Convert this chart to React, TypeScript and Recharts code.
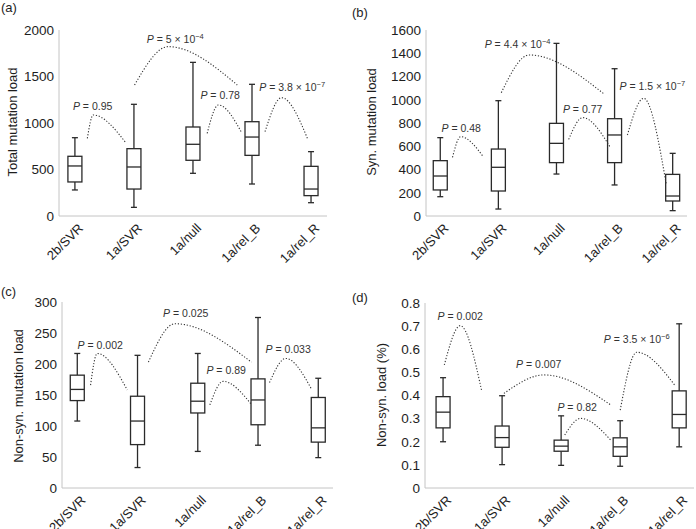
import React from "react";
import { ComposedChart, Bar, Line, Scatter, XAxis, YAxis } from "recharts";

const groups = ["2b/SVR", "1a/SVR", "1a/null", "1a/rel_B", "1a/rel_R"];
const groupX = [1, 2, 3, 4, 5];

// box stats per group: [min, q1, median, q3, max]
const totalLoad = [
  [280, 366, 538, 642, 842],
  [93, 290, 527, 724, 1201],
  [459, 599, 771, 957, 1652],
  [344, 652, 849, 1014, 1416],
  [143, 219, 290, 534, 692],
];
const synLoad = [
  [166, 224, 344, 476, 674],
  [60, 215, 419, 576, 992],
  [361, 459, 625, 797, 1485],
  [267, 459, 697, 837, 1267],
  [46, 129, 172, 358, 539],
];
const nonSynLoad = [
  [108, 141, 159, 182, 217],
  [33, 70, 108, 148, 214],
  [59, 121, 140, 169, 217],
  [69, 102, 142, 176, 275],
  [49, 74, 97, 146, 177],
];
const nonSynPct = [
  [0.2, 0.26, 0.328, 0.395, 0.477],
  [0.101, 0.176, 0.218, 0.268, 0.399],
  [0.098, 0.159, 0.181, 0.207, 0.312],
  [0.094, 0.137, 0.178, 0.217, 0.291],
  [0.178, 0.26, 0.318, 0.42, 0.71],
];

// dotted comparison arcs: [x, y] points (start, peak, end)
const totalArcs = [
  [[1.21, 835], [1.31, 1086], [1.86, 789]],
  [[2.01, 1409], [2.58, 1821], [3.75, 1409]],
  [[3.24, 889], [3.43, 1194], [3.83, 889]],
  [[4.22, 907], [4.5, 1272], [4.95, 817]],
];
const synArcs = [
  [[1.21, 505], [1.35, 682], [1.74, 510]],
  [[2.05, 1061], [2.53, 1385], [3.82, 1049]],
  [[3.21, 659], [3.45, 846], [3.92, 596]],
  [[4.22, 697], [4.5, 1012], [4.89, 270]],
];
const nonSynArcs = [
  [[1.22, 166], [1.33, 217], [1.83, 158]],
  [[2.18, 203], [2.62, 265], [3.89, 203]],
  [[3.2, 134], [3.42, 172], [3.88, 136]],
  [[4.19, 170], [4.46, 209], [4.89, 159]],
];
const pctArcs = [
  [[1.02, 0.532], [1.29, 0.702], [1.65, 0.424]],
  [[2.03, 0.409], [2.71, 0.489], [3.84, 0.359]],
  [[3.06, 0.229], [3.33, 0.301], [3.84, 0.207]],
  [[4.0, 0.337], [4.28, 0.587], [4.92, 0.446]],
];

// P value labels: x, y (text centre), value, exponent
const totalP = [
  { x: 1.3, y: 1183, p: "0.95", exp: "" },
  { x: 2.7, y: 1903, p: "5 × 10", exp: "−4" },
  { x: 3.46, y: 1301, p: "0.78", exp: "" },
  { x: 4.68, y: 1387, p: "3.8 × 10", exp: "−7" },
];
const synP = [
  { x: 1.36, y: 757, p: "0.48", exp: "" },
  { x: 2.33, y: 1480, p: "4.4 × 10", exp: "−4" },
  { x: 3.45, y: 920, p: "0.77", exp: "" },
  { x: 4.65, y: 1118, p: "1.5 × 10", exp: "−7" },
];
const nonSynP = [
  { x: 1.38, y: 230, p: "0.002", exp: "" },
  { x: 2.8, y: 282, p: "0.025", exp: "" },
  { x: 3.47, y: 190, p: "0.89", exp: "" },
  { x: 4.5, y: 224, p: "0.033", exp: "" },
];
const pctP = [
  { x: 1.29, y: 0.745, p: "0.002", exp: "" },
  { x: 2.62, y: 0.537, p: "0.007", exp: "" },
  { x: 3.27, y: 0.351, p: "0.82", exp: "" },
  { x: 4.28, y: 0.645, p: "3.5 × 10", exp: "−6" },
];

const totalTicks = [0, 500, 1000, 1500, 2000];
const synTicks = [0, 200, 400, 600, 800, 1000, 1200, 1400, 1600];
const nonSynTicks = [0, 50, 100, 150, 200, 250, 300];
const pctTicks = [0, 0.1, 0.2, 0.3, 0.4, 0.5, 0.6, 0.7, 0.8];

const FONT = "'Liberation Sans', Arial, Helvetica, sans-serif";
const INK = "#2a2a2a";
const AXIS = "#c4c4c4";
const BOX_W = 14;

const boxRange = (d: any) => (d && d.s ? [d.s[0], d.s[4]] : null);

const BoxShape = (props: any) => {
  const { x, y, width, height, payload } = props;
  if (!payload || !payload.s) return null;
  const [lo, q1, med, q3, hi] = payload.s;
  const py = (v: number) => y + (height * (hi - v)) / (hi - lo);
  const cx = x + width / 2;
  const bx = cx - BOX_W / 2;
  const cap = 3;
  return (
    <g stroke={INK} strokeWidth={1.3} fill="none">
      <line x1={cx} x2={cx} y1={py(hi)} y2={py(q3)} />
      <line x1={cx} x2={cx} y1={py(q1)} y2={py(lo)} />
      <line x1={cx - cap} x2={cx + cap} y1={py(hi)} y2={py(hi)} />
      <line x1={cx - cap} x2={cx + cap} y1={py(lo)} y2={py(lo)} />
      <rect x={bx} y={py(q3)} width={BOX_W} height={py(q1) - py(q3)} fill="#fff" />
      <line x1={bx} x2={bx + BOX_W} y1={py(med)} y2={py(med)} />
    </g>
  );
};

const PLabel = (props: any) => {
  const { cx, cy, payload } = props;
  if (!payload) return null;
  return (
    <text x={cx} y={cy + 4} textAnchor="middle" fontSize={10.5} fill="#333" fontFamily={FONT}>
      <tspan fontStyle="italic">P</tspan>
      <tspan>{" = " + payload.p}</tspan>
      {payload.exp ? (
        <tspan dy={-4} fontSize={7.5}>
          {payload.exp}
        </tspan>
      ) : null}
    </text>
  );
};

const XTick = (props: any) => {
  const { x, y, payload } = props;
  const ax = x + 9;
  const ay = y + 13;
  return (
    <text
      x={ax}
      y={ay}
      transform={`rotate(-45 ${ax} ${ay})`}
      textAnchor="end"
      fontSize={13}
      fill="#1e1e1e"
      fontFamily={FONT}
    >
      {groups[payload.value - 1]}
    </text>
  );
};

type PanelProps = {
  left: number;
  top: number;
  height: number;
  tag: string;
  tagPos: [number, number];
  title: string;
  titlePos: [number, number];
  stats: number[][];
  arcs: number[][][];
  pLabels: { x: number; y: number; p: string; exp: string }[];
  yTicks: number[];
  xDomain: [number, number];
  yAxisWidth: number;
  margin: { top: number; right: number };
  xAxisHeight: number;
};

function Panel(p: PanelProps) {
  const data = groupX.map((x, i) => ({ x, s: p.stats[i] }));
  const yMax = p.yTicks[p.yTicks.length - 1];
  return (
    <div style={{ position: "absolute", left: p.left, top: p.top }}>
      <ComposedChart
        width={348}
        height={p.height}
        data={data}
        margin={{ top: p.margin.top, right: p.margin.right, bottom: 0, left: 0 }}
      >
        <XAxis
          type="number"
          dataKey="x"
          domain={p.xDomain}
          allowDataOverflow
          ticks={groupX}
          interval={0}
          tickLine={false}
          tickSize={0}
          tickMargin={0}
          height={p.xAxisHeight}
          axisLine={{ stroke: AXIS }}
          tick={<XTick />}
        />
        <YAxis
          type="number"
          domain={[0, yMax]}
          ticks={p.yTicks}
          interval={0}
          allowDataOverflow
          width={p.yAxisWidth}
          tickLine={false}
          tickSize={0}
          tickMargin={5}
          axisLine={{ stroke: AXIS }}
          tick={{ fontSize: 13.5, fill: "#1e1e1e", fontFamily: FONT }}
        />
        <Bar dataKey={boxRange} barSize={14} shape={<BoxShape />} isAnimationActive={false} />
        {p.arcs.map((arc, i) => (
          <Line
            key={i}
            data={arc.map(([x, y]) => ({ x, y }))}
            dataKey="y"
            type="monotone"
            stroke="#333"
            strokeWidth={1.1}
            strokeDasharray="1.2 1.8"
            dot={false}
            activeDot={false}
            isAnimationActive={false}
          />
        ))}
        <Scatter data={p.pLabels} dataKey="y" shape={<PLabel />} isAnimationActive={false} />
        <text x={p.tagPos[0]} y={p.tagPos[1]} fontSize={13} fill="#1e1e1e" fontFamily={FONT}>
          {p.tag}
        </text>
        <text
          x={p.titlePos[0]}
          y={p.titlePos[1]}
          transform={`rotate(-90 ${p.titlePos[0]} ${p.titlePos[1]})`}
          textAnchor="middle"
          dominantBaseline="central"
          fontSize={13}
          fill="#1e1e1e"
          fontFamily={FONT}
        >
          {p.title}
        </text>
      </ComposedChart>
    </div>
  );
}

export default function App() {
  return (
    <div
      style={{
        position: "absolute",
        left: 0,
        top: 0,
        width: 696,
        height: 529,
        background: "#fff",
        overflow: "hidden",
      }}
    >
      <Panel
        left={0}
        top={0}
        height={265}
        tag="(a)"
        tagPos={[1, 12]}
        title="Total mutation load"
        titlePos={[12, 122]}
        stats={totalLoad}
        arcs={totalArcs}
        pLabels={totalP}
        yTicks={totalTicks}
        xDomain={[0.73, 5.27]}
        yAxisWidth={59}
        margin={{ top: 30, right: 21 }}
        xAxisHeight={49}
      />
      <Panel
        left={348}
        top={0}
        height={265}
        tag="(b)"
        tagPos={[4, 17]}
        title="Syn. mutation load"
        titlePos={[23, 122]}
        stats={synLoad}
        arcs={synArcs}
        pLabels={synP}
        yTicks={synTicks}
        xDomain={[0.754, 5.246]}
        yAxisWidth={78}
        margin={{ top: 30, right: 9 }}
        xAxisHeight={49}
      />
      <Panel
        left={0}
        top={265}
        height={264}
        tag="(c)"
        tagPos={[1, 31]}
        title="Non-syn. mutation load"
        titlePos={[18, 131]}
        stats={nonSynLoad}
        arcs={nonSynArcs}
        pLabels={nonSynP}
        yTicks={nonSynTicks}
        xDomain={[0.746, 5.244]}
        yAxisWidth={62}
        margin={{ top: 37, right: 15 }}
        xAxisHeight={41}
      />
      <Panel
        left={348}
        top={265}
        height={264}
        tag="(d)"
        tagPos={[4, 37]}
        title="Non-syn. load (%)"
        titlePos={[33, 130]}
        stats={nonSynPct}
        arcs={pctArcs}
        pLabels={pctP}
        yTicks={pctTicks}
        xDomain={[0.693, 5.25]}
        yAxisWidth={77}
        margin={{ top: 38, right: 2 }}
        xAxisHeight={41}
      />
    </div>
  );
}
